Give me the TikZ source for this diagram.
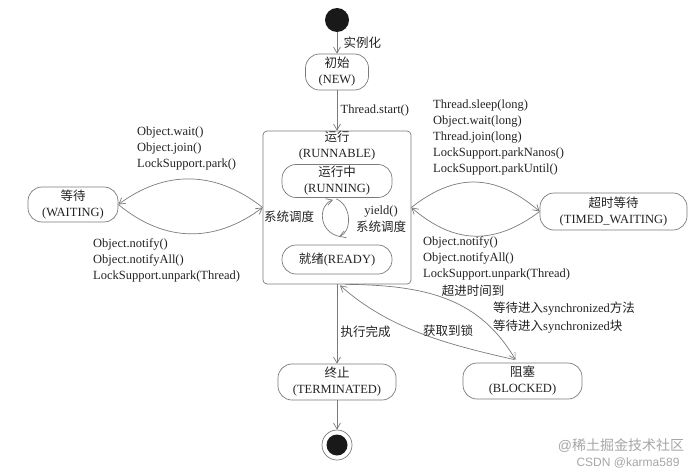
\documentclass[tikz,border=0pt]{standalone}
\usepackage{fontspec}
\setmainfont{Liberation Serif}
\newfontfamily\cjk{Noto Sans CJK SC}
\newfontfamily\marksans{Liberation Sans}
\usetikzlibrary{arrows.meta,calc}
\definecolor{linegray}{HTML}{7A7A7A}
\definecolor{inkgray}{HTML}{222222}
\newcommand{\zh}[1]{{\cjk #1}}

\begin{document}
\begin{tikzpicture}[
  x=1pt, y=-1pt,
  font=\fontsize{12.5}{16}\selectfont,
  text=inkgray,
  state/.style={draw=linegray, line width=0.7pt, rounded corners=14pt,
    align=center, inner sep=0pt},
  flow/.style={draw=linegray, line width=0.7pt,
    -{Straight Barb[length=6pt,width=7pt]}},
  calls/.style={align=left, anchor=north west, inner sep=0pt}
]

\useasboundingbox (0,0) rectangle (700,473);

% ------------------------------------------------------------
% States
% ------------------------------------------------------------
\node[circle, fill=black!90, minimum size=24pt, inner sep=0pt]
  (start) at (337,20) {};

\node[state, minimum width=63pt, minimum height=36pt]
  (new) at (337,72) {\zh{初始}\\(NEW)};

\node[draw=linegray, line width=0.7pt, rounded corners=4pt,
  minimum width=148pt, minimum height=153pt, inner sep=0pt]
  (runnable) at (337,207.5) {};
\node[align=center, inner sep=0pt]
  (runtitle) at (337,146) {\zh{运行}\\(RUNNABLE)};

\node[state, minimum width=110pt, minimum height=33pt]
  (running) at (337,181) {\zh{运行中}\\(RUNNING)};
\node[state, minimum width=110pt, minimum height=29pt]
  (ready) at (337,259.5) {\zh{就绪}(READY)};

\node[state, minimum width=90pt, minimum height=35pt]
  (waiting) at (73,204.5) {\zh{等待}\\(WAITING)};
\node[state, minimum width=147pt, minimum height=37pt]
  (timed) at (613.5,211.5) {\zh{超时等待}\\(TIMED\_WAITING)};

\node[state, minimum width=118pt, minimum height=36pt]
  (terminated) at (337,382) {\zh{终止}\\(TERMINATED)};
\node[state, minimum width=119pt, minimum height=36pt]
  (blocked) at (522.5,381) {\zh{阻塞}\\(BLOCKED)};

\node[circle, draw=linegray, line width=0.7pt, minimum size=30pt, inner sep=0pt]
  (finish) at (337,445) {};
\fill[black!90] (finish.center) circle[radius=10.5];

% ------------------------------------------------------------
% Main line
% ------------------------------------------------------------
\draw[flow] (start) -- node[right, xshift=3pt, name=lblinst] {\zh{实例化}} (new);
\draw[flow] (new) -- node[right, name=lblstart] {Thread.start()} (runnable.north);
\draw[flow] (runnable.south) -- node[right, pos=0.6, name=lbldone] {\zh{执行完成}} (terminated);
\draw[flow] (terminated) -- (finish);

% ------------------------------------------------------------
% Inside RUNNABLE
% ------------------------------------------------------------
\draw[flow] ($(ready.north)+(3,-8)$)
  .. controls (318,232) and (318,205) .. ($(running.south)+(-4,2)$);
\draw[flow] ($(running.south)+(-1,1)$)
  .. controls (352,205) and (352,232) .. ($(ready.north)+(2,-8)$);

\node (lblsched) at (289,217) {\zh{系统调度}};
\node[align=center, font=\fontsize{12.5}{17}\selectfont]
  (lblyield) at (381,219.5) {yield()\\\zh{系统调度}};

% ------------------------------------------------------------
% WAITING
% ------------------------------------------------------------
\draw[flow] (runnable.west)
  .. controls (215,170) and (165,170) .. (waiting.east);
\draw[flow] (waiting.east)
  .. controls (165,243) and (215,243) .. (runnable.west);

\node[calls] (waitcalls) at (137,127)
  {Object.wait()\\Object.join()\\LockSupport.park()};
\node[calls] (notifycalls) at (93,238)
  {Object.notify()\\Object.notifyAll()\\LockSupport.unpark(Thread)};

% ------------------------------------------------------------
% TIMED_WAITING
% ------------------------------------------------------------
\draw[flow] (runnable.east)
  .. controls (455,173) and (495,173) .. (timed.west);
\draw[flow] (timed.west)
  .. controls (495,245) and (455,245) .. (runnable.east);

\node[calls] (sleepcalls) at (433,100)
  {Thread.sleep(long)\\Object.wait(long)\\Thread.join(long)\\%
   LockSupport.parkNanos()\\LockSupport.parkUntil()};
\node[calls] (wakecalls) at (423,236)
  {Object.notify()\\Object.notifyAll()\\LockSupport.unpark(Thread)};

% ------------------------------------------------------------
% BLOCKED
% ------------------------------------------------------------
\draw[flow] ($(runnable.south)+(8,0)$)
  .. controls (430,285) and (480,300) .. ($(blocked.north)+(-7,-3)$);
\draw[flow] ($(blocked.north)+(-8,-3)$)
  .. controls (450,345) and (390,330) .. ($(runnable.south)+(3,1)$);

\node (lbltimeout) at (473,291) {\zh{超进时间到}};
\node[calls, font=\fontsize{12.5}{18}\selectfont] (lblsync) at (493,302)
  {\zh{等待进入}synchronized\zh{方法}\\\zh{等待进入}synchronized\zh{块}};
\node (lbllock) at (448,331) {\zh{获取到锁}};

% watermark
\node[text=black!35, font=\marksans\fontsize{14}{14}\selectfont]
  (markone) at (621,446) {@\zh{稀土掘金技术社区}};
\node[text=black!35, font=\marksans\fontsize{12}{12}\selectfont]
  (marktwo) at (628,463) {CSDN @karma589};

\end{tikzpicture}
\end{document}
